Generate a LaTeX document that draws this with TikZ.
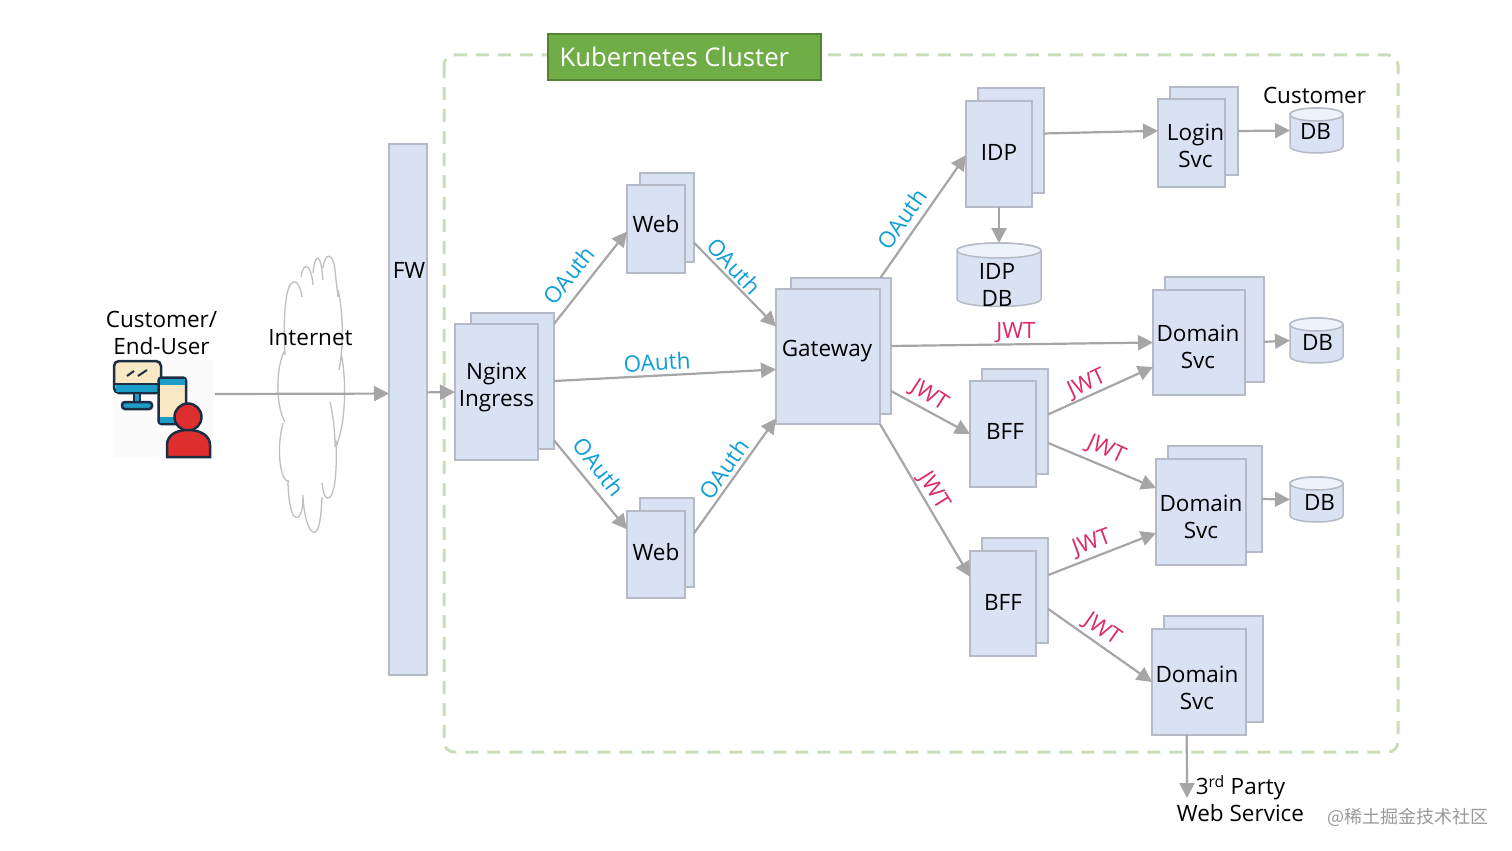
\documentclass[tikz,border=0pt]{standalone}
\usepackage{fontspec}
\setmainfont{Open Sans}
\newfontfamily\cjkfont{Noto Sans CJK SC}
\usetikzlibrary{arrows.meta}
\definecolor{boxfill}{HTML}{D9E2F3}
\definecolor{boxline}{HTML}{B5BAC6}
\definecolor{arrowgray}{HTML}{A6A6A6}
\definecolor{clusterline}{HTML}{CADDBA}
\definecolor{clusterfill}{HTML}{70AD47}
\definecolor{clusteredge}{HTML}{548235}
\definecolor{oauthblue}{HTML}{0F9ED5}
\definecolor{jwtred}{HTML}{DC2A62}
\definecolor{iconink}{HTML}{1D2D44}
\definecolor{iconcream}{HTML}{F8E9C4}
\definecolor{iconblue}{HTML}{1E9CC8}
\definecolor{iconred}{HTML}{DF2E2E}
\tikzset{
  plainbox/.style={draw=boxline, line width=1.5pt, fill=boxfill, rectangle, inner sep=0pt, outer sep=0pt},
  boxtext/.style={font=\fontsize{22.5}{27}\selectfont, align=center, text=black, inner sep=0pt},
  link/.style={draw=arrowgray, line width=2.2pt, -{Triangle[length=15pt,width=15pt]}},
  oauth/.style={font=\fontsize{22.5}{27}\selectfont, text=oauthblue, inner sep=0pt},
  jwt/.style={font=\fontsize{22.5}{27}\selectfont, text=jwtred, inner sep=0pt},
  canline/.style={draw=boxline, line width=1.5pt},
  cloudline/.style={draw=black!25, line width=1.3pt}
}
% name, centre x, top y, half width, end radius, height, label options, text
\newcommand{\dbcan}[8]{%
  \draw[canline, fill=boxfill] (#2-#4,#3+#5) -- (#2-#4,#3+#6-#5) arc[start angle=180, end angle=0, x radius=#4, y radius=#5]
    -- (#2+#4,#3+#5) arc[start angle=0, end angle=-180, x radius=#4, y radius=#5] -- cycle;
  \draw[canline, fill=boxfill!45] (#2,#3+#5) ellipse[x radius=#4, y radius=#5];
  \node[minimum width=2*#4 pt, minimum height=#6 pt, inner sep=0pt, outer sep=0pt, anchor=north, label={[boxtext,#7]center:#8}] (#1) at (#2,#3) {};
}

\begin{document}
\begin{tikzpicture}[x=1pt, y=-1pt]
      \useasboundingbox (0,0) rectangle (1512,851);

      % Cluster frame and its title
      \draw[clusterline, line width=3pt, dash pattern=on 13pt off 9pt, rounded corners=10pt] (444,55) rectangle (1398,752);
      \node[draw=clusteredge, line width=1.2pt, fill=clusterfill, minimum width=273pt, minimum height=46pt, inner sep=0pt,
        label={[text=white, font=\fontsize{25.7}{30}\selectfont, anchor=west, inner sep=0pt]west:\hspace{12pt}Kubernetes Cluster}] (clusterT) at (684.5,57) {};

      % User icon
      \fill[black!1.5] (113,360) rectangle (213,458);
      \draw[iconink, line width=2.5pt, fill=iconcream, rounded corners=5pt] (114,361) rectangle (161,393);
      \fill[iconblue] (115.5,385) rectangle (159.5,391.5);
      \draw[iconink, line width=2pt] (115,384) -- (160,384);
      \draw[iconink, line width=2pt] (127,376) -- (134,371) (138,376) -- (147,370);
      \draw[iconink, line width=2.5pt, fill=iconblue] (134,393) rectangle (140,402);
      \draw[iconink, line width=2.5pt, fill=iconblue, rounded corners=3pt] (122,402) rectangle (152,409);
      \draw[iconink, line width=2.5pt, fill=iconcream, rounded corners=3pt] (158.5,377.5) rectangle (186,424);
      \fill[iconblue] (160,379) rectangle (184.5,384.5);
      \fill[iconblue] (160,417) rectangle (184.5,422.5);
      \draw[iconink, line width=2.5pt, fill=iconred] (188,417) circle (13.5);
      \draw[iconink, line width=2.5pt, fill=iconred] (167,457) -- (167,445) .. controls (167,436) and (175,430) .. (188,430)
        .. controls (201,430) and (210,436) .. (210,445) -- (210,457) -- cycle;
      \node[boxtext] (userT) at (161.5,333) {Customer/\\End-User};
      \coordinate (user) at (215,394);

      % Internet cloud
      \draw[cloudline] (285,355) .. controls (283,320) and (285,285) .. (293,282) .. controls (297,280) and (301,288) .. (302,297)
        (301,277) .. controls (303,262) and (311,262) .. (313,285)
        (313,273) .. controls (315,252) and (321,252) .. (323,280)
        (323,268) .. controls (325,252) and (333,252) .. (335,270) .. controls (336,280) and (337,288) .. (338,297)
        (338,290) .. controls (343,310) and (344,345) .. (339,370)
        (341,353) .. controls (346,375) and (347,420) .. (336,447)
        (330,402) .. controls (333,415) and (335,430) .. (335,447)
        (336,440) .. controls (337,465) and (336,500) .. (327,498) .. controls (324,497) and (323,490) .. (322,483)
        (322,497) .. controls (321,525) and (317,535) .. (313,532) .. controls (308,530) and (304,515) .. (303,497)
        (303,495) .. controls (303,520) and (296,520) .. (293,515) .. controls (290,508) and (288,495) .. (288,480)
        (289,482) .. controls (280,480) and (276,450) .. (283,423)
        (285,422) .. controls (275,405) and (276,365) .. (285,350);
      \node[boxtext] (internetT) at (310.5,338) {Internet};

      % Firewall
      \node[plainbox, minimum width=38pt, minimum height=531pt, label={[boxtext,xshift=1pt,yshift=139pt]center:FW}] (fw) at (408,409.5) {};

      % Stacked boxes: back sheet first, then front sheet
      \node[plainbox, minimum width=83pt, minimum height=136pt] (nginxB) at (512.5,381) {};
      \node[plainbox, minimum width=83pt, minimum height=136pt, label={[boxtext,yshift=5pt]center:Nginx\\Ingress}] (nginxF) at (496.5,392) {};
      \node[plainbox, minimum width=54pt, minimum height=89pt] (webAB) at (667,217.5) {};
      \node[plainbox, minimum width=58pt, minimum height=88pt, label={[boxtext,yshift=5pt]center:Web}] (webAF) at (656,229) {};
      \node[plainbox, minimum width=54pt, minimum height=89pt] (webBB) at (667,542.5) {};
      \node[plainbox, minimum width=58pt, minimum height=87pt, label={[boxtext,yshift=2pt]center:Web}] (webBF) at (656,554.5) {};
      \node[plainbox, minimum width=100pt, minimum height=136pt] (gatewayB) at (841,346) {};
      \node[plainbox, minimum width=104pt, minimum height=135pt, label={[boxtext,xshift=-1pt,yshift=5pt]center:Gateway}] (gatewayF) at (828,356.5) {};
      \node[plainbox, minimum width=66pt, minimum height=105pt] (idpB) at (1011,140.5) {};
      \node[plainbox, minimum width=66pt, minimum height=106pt, label={[boxtext,yshift=2pt]center:IDP}] (idpF) at (999,154) {};
      \node[plainbox, minimum width=68pt, minimum height=88pt] (loginB) at (1204,131) {};
      \node[plainbox, minimum width=67pt, minimum height=88pt, label={[boxtext,xshift=4pt,yshift=-3pt]center:Login\\Svc}] (loginF) at (1191.5,143) {};
      \node[plainbox, minimum width=99pt, minimum height=105pt] (domainAB) at (1214.5,329.5) {};
      \node[plainbox, minimum width=92pt, minimum height=105pt, label={[boxtext,xshift=-1pt,yshift=-4.5pt]center:Domain\\Svc}] (domainAF) at (1199,342.5) {};
      \node[plainbox, minimum width=66pt, minimum height=105pt] (bffAB) at (1015,421.5) {};
      \node[plainbox, minimum width=66pt, minimum height=106pt, label={[boxtext,xshift=2pt,yshift=3pt]center:BFF}] (bffAF) at (1003,434) {};
      \node[plainbox, minimum width=94pt, minimum height=106pt] (domainBB) at (1215,499) {};
      \node[plainbox, minimum width=90pt, minimum height=106pt, label={[boxtext,yshift=-5pt]center:Domain\\Svc}] (domainBF) at (1201,512) {};
      \node[plainbox, minimum width=66pt, minimum height=105pt] (bffBB) at (1015,590.5) {};
      \node[plainbox, minimum width=66pt, minimum height=105pt, label={[boxtext,yshift=1pt]center:BFF}] (bffBF) at (1003,603.5) {};
      \node[plainbox, minimum width=99pt, minimum height=106pt] (domainCB) at (1213.5,669) {};
      \node[plainbox, minimum width=94pt, minimum height=106pt, label={[boxtext,xshift=-2pt,yshift=-6pt]center:Domain\\Svc}] (domainCF) at (1199,682) {};

      % Databases
      \node[boxtext] (custT) at (1314.5,95) {Customer};
      \dbcan{custDb}{1316.5}{108}{26.5}{6.5}{45}{xshift=-1pt,yshift=-1pt}{DB}
      \dbcan{idpDb}{999}{243}{42}{7.5}{63.5}{xshift=-2pt,yshift=-10pt}{IDP\\DB}
      \dbcan{dbA}{1316.5}{318}{26.5}{6.5}{45}{xshift=1pt,yshift=-2pt}{DB}
      \dbcan{dbB}{1316.5}{477}{26.5}{6.5}{45}{xshift=3pt,yshift=-3pt}{DB}

      % Third party service
      \node[boxtext] (partyT) at (1240.5,798.5) {3\textsuperscript{rd} Party\\Web Service};
      \coordinate (party) at (1187,798);

      % Connectors
      \draw[link] (user) -- (fw.140.8);
      \draw[link] (fw.42.6) -- (nginxF.west);
      \draw[link] (nginxB.54.4) -- (webAF.185.9);
      \draw[link] (nginxB.east) -- (gatewayF.194.6);
      \draw[link] (nginxB.-55.8) -- (webBF.139.8);
      \draw[link] (webAB.-43.4) -- (gatewayF.150.4);
      \draw[link] (webBB.19.4) -- (gatewayF.230.7);
      \draw[link] (gatewayB.60.2) -- (idpF.182);
      \draw[link] (idpB.12.8) -- (loginF.160.3);
      \draw[link] (loginB.east) -- (custDb.west);
      \draw[link] (idpF.south) -- (idpDb.north);
      \draw[link] (gatewayB.east) -- (domainAF.west);
      \draw[link] (gatewayB.-42.6) -- (bffAF.west);
      \draw[link] (gatewayF.south east) -- (bffBF.141.2);
      \draw[link] (bffAB.12.8) -- (domainAF.208);
      \draw[link] (bffAB.-33.1) -- (domainBF.152);
      \draw[link] (bffBB.25.2) -- (domainBF.205);
      \draw[link] (bffBB.-29.3) -- (domainCF.west);
      \draw[link] (domainAB.-14.2) -- (dbA.west);
      \draw[link] (domainBB.east) -- (dbB.west);
      \draw[link] (domainCF.257.2) -- (party);

      % Token labels
      \node[oauth, rotate=51] (oauthA) at (569,275) {OAuth};
      \node[oauth, rotate=-47] (oauthB) at (734,266) {OAuth};
      \node[oauth, rotate=3] (oauthC) at (657,362) {OAuth};
      \node[oauth, rotate=-52] (oauthD) at (599,467) {OAuth};
      \node[oauth, rotate=55] (oauthE) at (724,469) {OAuth};
      \node[oauth, rotate=55] (oauthF) at (902,219) {OAuth};
      \node[jwt] (jwtA) at (1016,333) {JWT};
      \node[jwt, rotate=-33] (jwtB) at (929,396) {JWT};
      \node[jwt, rotate=25] (jwtC) at (1087,384) {JWT};
      \node[jwt, rotate=-25] (jwtD) at (1106,450) {JWT};
      \node[jwt, rotate=-58] (jwtE) at (934,491) {JWT};
      \node[jwt, rotate=20] (jwtF) at (1092,543) {JWT};
      \node[jwt, rotate=-35] (jwtG) at (1102,630) {JWT};

      % Watermark
      \node[text=black!40, font=\fontsize{18}{20}\cjkfont, inner sep=0pt] (mark) at (1408,817) {@稀土掘金技术社区};
\end{tikzpicture}
\end{document}
